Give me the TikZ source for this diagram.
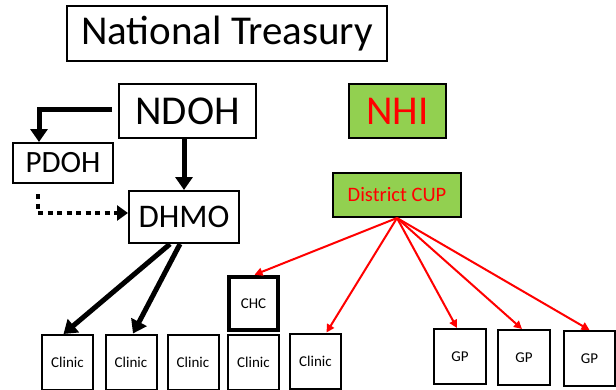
\documentclass[tikz,border=0pt]{standalone}
\usepackage{fontspec}
\setmainfont{Carlito}
\usetikzlibrary{arrows.meta,calc}
\definecolor{nhigreen}{HTML}{92D050}
\definecolor{nhired}{HTML}{FF0000}
\tikzset{
  box/.style={draw=black, line width=2pt, rectangle, inner sep=0pt, fill=white},
  bigbox/.style={box, font=\fontsize{41}{44}\selectfont},
  midbox/.style={box, font=\fontsize{31}{34}\selectfont},
  smallbox/.style={box, minimum width=51pt, minimum height=55pt, font=\fontsize{15}{17}\selectfont},
  greenbox/.style={box, fill=nhigreen, text=nhired},
  blk/.style={line width=5pt, -{Triangle[width=17pt,length=13pt]}},
  dotarrow/.style={line width=4.5pt, dash pattern=on 5pt off 4.5pt, -{Triangle[width=15pt,length=11pt]}},
  redarrow/.style={draw=nhired, line width=2pt, -{Triangle[width=8pt,length=8pt]}}
}
\begin{document}
\begin{tikzpicture}[x=1pt,y=-1pt]
\useasboundingbox (0,0) rectangle (616,389);
\clip (0,0) rectangle (616,389);
\fill[white] (0,0) rectangle (616,389);
% top level
\node[bigbox, minimum width=320pt, minimum height=55pt] (nt) at (227,33.5) {National Treasury};
\node[bigbox, minimum width=137pt, minimum height=54pt] (ndoh) at (187.5,111) {NDOH};
\node[bigbox, greenbox, minimum width=97pt, minimum height=54pt] (nhi) at (397.5,111) {NHI};
\node[midbox, minimum width=100pt, minimum height=40pt] (pdoh) at (63,163) {PDOH};
\node[midbox, font=\fontsize{33}{36}\selectfont, minimum width=110pt, minimum height=52pt] (dhmo) at (184,217) {DHMO};
\node[box, greenbox, minimum width=128pt, minimum height=44pt, font=\fontsize{20.5}{22}\selectfont] (dcup) at (397,195) {District CUP};
% bottom row
\node[smallbox] (c1) at (67.5,362.5) {Clinic};
\node[smallbox] (c2) at (131,362) {Clinic};
\node[smallbox] (c3) at (193,362) {Clinic};
\node[smallbox] (c4) at (253.5,362) {Clinic};
\node[smallbox] (c5) at (315.5,361) {Clinic};
\node[smallbox, line width=4.5pt, minimum width=49pt, minimum height=53pt] (chc) at (253.5,303.5) {CHC};
\node[smallbox, minimum width=52pt] (gp1) at (460,356.5) {GP};
\node[smallbox, minimum width=52pt] (gp2) at (524,357.5) {GP};
\node[smallbox, minimum width=51pt] (gp3) at (589.5,358.5) {GP};
% black arrows
\coordinate (pdohin) at ([xshift=-24pt]pdoh.north);
\draw[blk] ([xshift=-6pt,yshift=2pt]ndoh.west) -| (pdohin);
\draw[blk] (dhmo.north |- ndoh.south) -- (dhmo.north);
\coordinate (pdohout) at ([xshift=-25pt,yshift=-10pt]pdoh.south);
\draw[dotarrow] (pdohout) |- ([yshift=4pt]dhmo.west);
\draw[blk] ([xshift=-14pt]dhmo.south) -- ([xshift=-4pt]c1.north);
\draw[blk] ([xshift=-4pt]dhmo.south) -- ([xshift=2pt]c2.north);
% red arrows
\coordinate (dsrc) at (dcup.south);
\draw[redarrow] (dsrc) -- ([xshift=1pt]chc.north);
\draw[redarrow] (dsrc) -- ([xshift=11pt]c5.north);
\draw[redarrow] (dsrc) -- ([xshift=-3pt]gp1.north);
\draw[redarrow] (dsrc) -- ([xshift=-2pt]gp2.north);
\draw[redarrow] (dsrc) -- (gp3.north);
\end{tikzpicture}
\end{document}
